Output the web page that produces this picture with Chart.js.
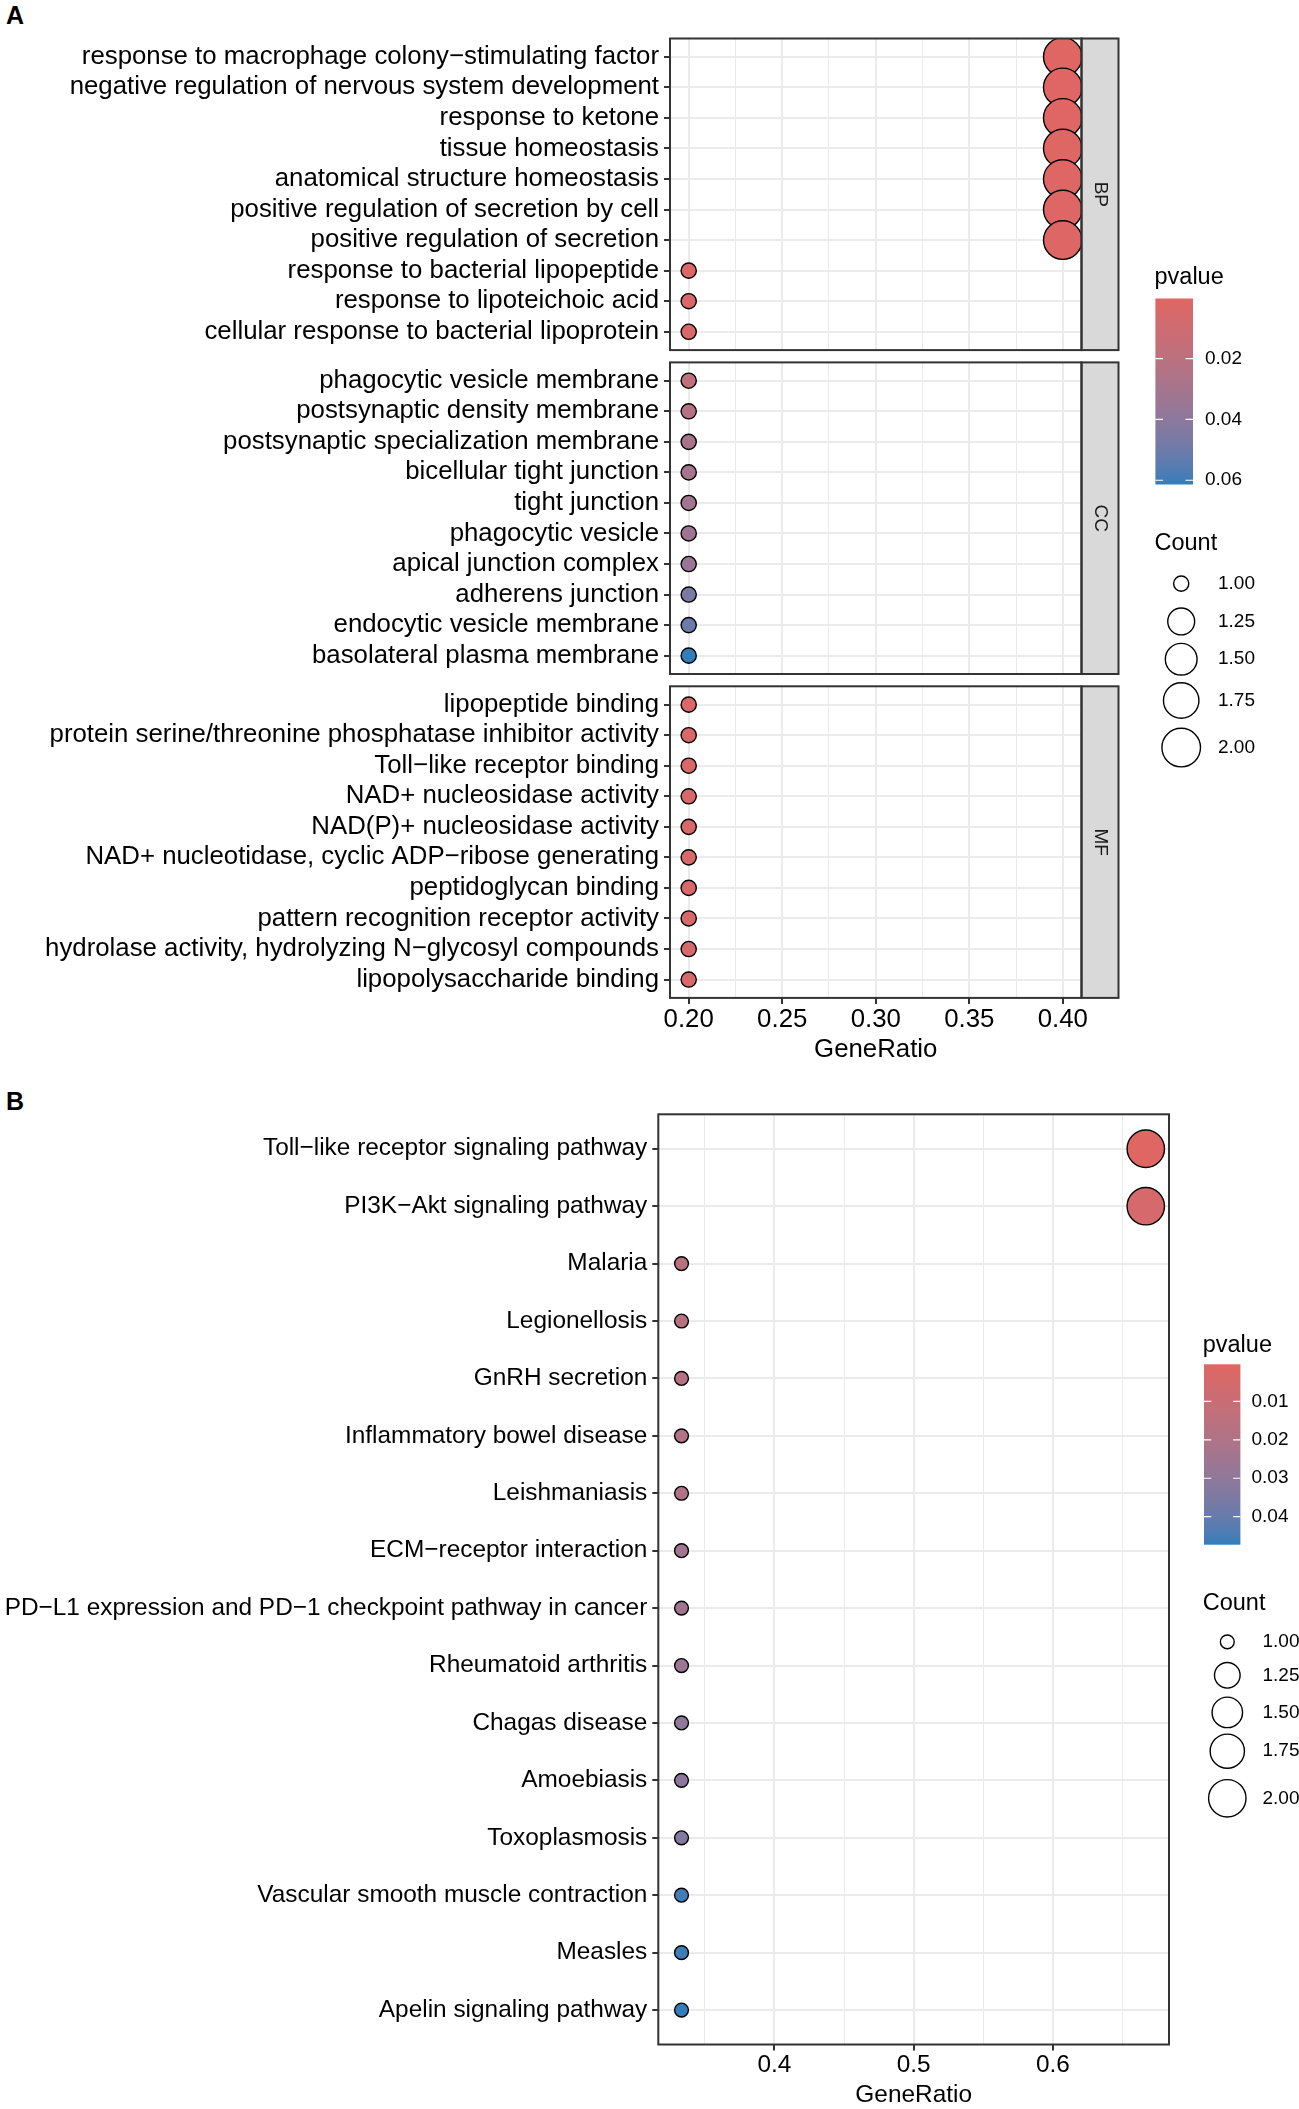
<!DOCTYPE html>
<html>
<head>
<meta charset="utf-8">
<script src="https://cdn.jsdelivr.net/npm/chart.js@4.4.1/dist/chart.umd.min.js"></script>
<style>
  html, body { margin: 0; padding: 0; background: #ffffff; }
  body { width: 1299px; height: 2109px; position: relative; overflow: hidden; }
  canvas.layer { position: absolute; left: 0; top: 0; width: 1299px; height: 2109px; }
  .plabel { position: absolute; left: 6px; font: bold 25px "Liberation Sans", Arial, Helvetica, sans-serif; line-height: 25px; color: #000; }
</style>
</head>
<body>
<div class="plabel" style="top:3px">A</div>
<div class="plabel" style="top:1088.5px">B</div>
<canvas id="cBP" class="layer" width="1299" height="2109"></canvas>
<canvas id="cCC" class="layer" width="1299" height="2109"></canvas>
<canvas id="cMF" class="layer" width="1299" height="2109"></canvas>
<canvas id="cKEGG" class="layer" width="1299" height="2109"></canvas>
<script>
// ---------------- DATA ----------------
const bpTerms = [
  "response to macrophage colony−stimulating factor",
  "negative regulation of nervous system development",
  "response to ketone",
  "tissue homeostasis",
  "anatomical structure homeostasis",
  "positive regulation of secretion by cell",
  "positive regulation of secretion",
  "response to bacterial lipopeptide",
  "response to lipoteichoic acid",
  "cellular response to bacterial lipoprotein"
];
const bpCount = [2, 2, 2, 2, 2, 2, 2, 1, 1, 1];
const bpRatio = [0.4, 0.4, 0.4, 0.4, 0.4, 0.4, 0.4, 0.2, 0.2, 0.2];
const bpP = [0.0002, 0.0006, 0.0009, 0.0011, 0.0013, 0.0016, 0.0018, 0.0031, 0.0034, 0.0036];

const ccTerms = [
  "phagocytic vesicle membrane",
  "postsynaptic density membrane",
  "postsynaptic specialization membrane",
  "bicellular tight junction",
  "tight junction",
  "phagocytic vesicle",
  "apical junction complex",
  "adherens junction",
  "endocytic vesicle membrane",
  "basolateral plasma membrane"
];
const ccCount = [1, 1, 1, 1, 1, 1, 1, 1, 1, 1];
const ccRatio = [0.2, 0.2, 0.2, 0.2, 0.2, 0.2, 0.2, 0.2, 0.2, 0.2];
const ccP = [0.0180, 0.0225, 0.0290, 0.0295, 0.0310, 0.0325, 0.0345, 0.0460, 0.0500, 0.0614];

const mfTerms = [
  "lipopeptide binding",
  "protein serine/threonine phosphatase inhibitor activity",
  "Toll−like receptor binding",
  "NAD+ nucleosidase activity",
  "NAD(P)+ nucleosidase activity",
  "NAD+ nucleotidase, cyclic ADP−ribose generating",
  "peptidoglycan binding",
  "pattern recognition receptor activity",
  "hydrolase activity, hydrolyzing N−glycosyl compounds",
  "lipopolysaccharide binding"
];
const mfCount = [1, 1, 1, 1, 1, 1, 1, 1, 1, 1];
const mfRatio = [0.2, 0.2, 0.2, 0.2, 0.2, 0.2, 0.2, 0.2, 0.2, 0.2];
const mfP = [0.0035, 0.0040, 0.0042, 0.0045, 0.0047, 0.0050, 0.0052, 0.0055, 0.0058, 0.0060];

const keggTerms = [
  "Toll−like receptor signaling pathway",
  "PI3K−Akt signaling pathway",
  "Malaria",
  "Legionellosis",
  "GnRH secretion",
  "Inflammatory bowel disease",
  "Leishmaniasis",
  "ECM−receptor interaction",
  "PD−L1 expression and PD−1 checkpoint pathway in cancer",
  "Rheumatoid arthritis",
  "Chagas disease",
  "Amoebiasis",
  "Toxoplasmosis",
  "Vascular smooth muscle contraction",
  "Measles",
  "Apelin signaling pathway"
];
const keggCount = [2, 2, 1, 1, 1, 1, 1, 1, 1, 1, 1, 1, 1, 1, 1, 1];
const keggRatio = [0.6667, 0.6667, 0.3333, 0.3333, 0.3333, 0.3333, 0.3333, 0.3333, 0.3333, 0.3333, 0.3333, 0.3333, 0.3333, 0.3333, 0.3333, 0.3333];
const keggP = [0.00033, 0.0045, 0.0160, 0.0165, 0.0170, 0.0185, 0.0200, 0.0235, 0.0245, 0.0260, 0.0300, 0.0310, 0.0330, 0.0455, 0.0462, 0.0473];

const facetNames = ["BP", "CC", "MF"];
const xTicksA = [0.20, 0.25, 0.30, 0.35, 0.40];
const xTicksB = [0.4, 0.5, 0.6];
const pBreaksA = [0.02, 0.04, 0.06];
const pBreaksB = [0.01, 0.02, 0.03, 0.04];
const countBreaks = [1.00, 1.25, 1.50, 1.75, 2.00];

// ---------------- HELPERS ----------------
const FONT = '"Liberation Sans", Arial, Helvetica, sans-serif';
const W = 1299, H = 2109;
const LOW = "#e06663", HIGH = "#327eba";

function hex2rgb(h) { return [1, 3, 5].map(i => parseInt(h.slice(i, i + 2), 16)); }
function s2l(c) { c /= 255; return c <= 0.04045 ? c / 12.92 : Math.pow((c + 0.055) / 1.055, 2.4); }
function l2s(c) { c = c <= 0.0031308 ? 12.92 * c : 1.055 * Math.pow(c, 1 / 2.4) - 0.055; return Math.max(0, Math.min(255, Math.round(c * 255))); }
const WN = [0.95047, 1, 1.08883];
function fl(t) { return t > 216 / 24389 ? Math.cbrt(t) : (24389 / 27 * t + 16) / 116; }
function fli(t) { const t3 = t * t * t; return t3 > 216 / 24389 ? t3 : (116 * t - 16) / (24389 / 27); }
function rgb2lab(rgb) {
  const [r, g, b] = rgb.map(s2l);
  const X = (0.4124 * r + 0.3576 * g + 0.1805 * b) / WN[0];
  const Y = (0.2126 * r + 0.7152 * g + 0.0722 * b) / WN[1];
  const Z = (0.0193 * r + 0.1192 * g + 0.9505 * b) / WN[2];
  const fx = fl(X), fy = fl(Y), fz = fl(Z);
  return [116 * fy - 16, 500 * (fx - fy), 200 * (fy - fz)];
}
function lab2rgb(lab) {
  const fy = (lab[0] + 16) / 116, fx = fy + lab[1] / 500, fz = fy - lab[2] / 200;
  const X = fli(fx) * WN[0], Y = fli(fy) * WN[1], Z = fli(fz) * WN[2];
  const r = 3.2406 * X - 1.5372 * Y - 0.4986 * Z;
  const g = -0.9689 * X + 1.8758 * Y + 0.0415 * Z;
  const b = 0.0557 * X - 0.2040 * Y + 1.0570 * Z;
  return [r, g, b].map(l2s);
}
const LAB_LO = rgb2lab(hex2rgb(LOW)), LAB_HI = rgb2lab(hex2rgb(HIGH));
function gradColor(t) {
  t = Math.max(0, Math.min(1, t));
  const c = lab2rgb([0, 1, 2].map(i => LAB_LO[i] + (LAB_HI[i] - LAB_LO[i]) * t));
  return `rgb(${c[0]},${c[1]},${c[2]})`;
}
function colorScale(pmin, pmax) { return p => gradColor((p - pmin) / (pmax - pmin)); }
function sizeScale(cmin, cmax, rmin, rmax) {
  return c => rmin + (rmax - rmin) * Math.sqrt(Math.max(0, (c - cmin) / (cmax - cmin)));
}
function minorTicks(major, lo, hi) {
  const step = major[1] - major[0], out = [];
  for (let k = -1; k < major.length; k++) {
    const v = major[0] + step * (k + 0.5);
    if (v >= lo && v <= hi) out.push(v);
  }
  return out;
}
function expandRange(vals) {
  const mn = Math.min(...vals), mx = Math.max(...vals), d = (mx - mn) * 0.05;
  return [mn - d, mx + d];
}

// ---------------- LEGEND ----------------
function drawLegend(ctx, L) {
  ctx.save();
  ctx.fillStyle = "#000";
  ctx.textAlign = "left";
  ctx.textBaseline = "alphabetic";
  ctx.font = `${L.titleSize}px ${FONT}`;
  ctx.fillText("pvalue", L.titleX, L.pTitleBase);
  const g = ctx.createLinearGradient(0, L.barTop, 0, L.barTop + L.barH);
  for (let i = 0; i <= 24; i++) g.addColorStop(i / 24, gradColor(i / 24));
  ctx.fillStyle = g;
  ctx.fillRect(L.barX, L.barTop, L.barW, L.barH);
  ctx.strokeStyle = "#ffffff";
  ctx.lineWidth = 1.2;
  ctx.font = `${L.labSize}px ${FONT}`;
  ctx.fillStyle = "#000";
  ctx.textBaseline = "middle";
  L.breaks.forEach(b => {
    const y = L.barTop + (b - L.pMin) / (L.pMax - L.pMin) * L.barH;
    ctx.beginPath();
    ctx.moveTo(L.barX, y); ctx.lineTo(L.barX + L.barW / 5, y);
    ctx.moveTo(L.barX + L.barW * 4 / 5, y); ctx.lineTo(L.barX + L.barW, y);
    ctx.stroke();
    ctx.fillText(b.toFixed(2), L.pLabX, y);
  });
  ctx.textBaseline = "alphabetic";
  ctx.font = `${L.titleSize}px ${FONT}`;
  ctx.fillText("Count", L.titleX, L.cTitleBase);
  ctx.font = `${L.labSize}px ${FONT}`;
  ctx.textBaseline = "middle";
  ctx.strokeStyle = "#000";
  ctx.lineWidth = 1.4;
  countBreaks.forEach((c, i) => {
    const y = L.circleY[i];
    ctx.beginPath();
    ctx.arc(L.circleX, y, L.size(c), 0, Math.PI * 2);
    ctx.stroke();
    ctx.fillText(c.toFixed(2), L.cLabX, y);
  });
  ctx.restore();
}

// ---------------- FACET CHART ----------------
function makeFacet(o) {
  const n = o.terms.length;
  const minors = minorTicks(o.xMajor, o.xRange[0], o.xRange[1]);
  const allX = o.xMajor.concat(minors).sort((a, b) => a - b);
  const isMajor = v => o.xMajor.some(m => Math.abs(m - v) < 1e-9);
  const panelPlugin = {
    id: "panel_" + o.id,
    afterDatasetsDraw(chart) {
      const a = chart.chartArea, ctx = chart.ctx;
      ctx.save();
      ctx.strokeStyle = "#333333";
      ctx.lineWidth = 2;
      if (o.strip) {
        ctx.fillStyle = "#D9D9D9";
        ctx.fillRect(a.right, a.top, o.stripW, a.bottom - a.top);
        ctx.strokeRect(a.right, a.top, o.stripW, a.bottom - a.top);
        ctx.save();
        ctx.translate(a.right + o.stripW / 2, (a.top + a.bottom) / 2);
        ctx.rotate(Math.PI / 2);
        ctx.fillStyle = "#1A1A1A";
        ctx.font = `19px ${FONT}`;
        ctx.textAlign = "center";
        ctx.textBaseline = "middle";
        ctx.fillText(o.strip, 0, 0);
        ctx.restore();
      }
      ctx.strokeRect(a.left, a.top, a.right - a.left, a.bottom - a.top);
      ctx.restore();
      if (o.legend) drawLegend(ctx, o.legend);
    }
  };
  return new Chart(document.getElementById(o.id), {
    type: "scatter",
    data: {
      datasets: [{
        data: o.terms.map((t, i) => ({ x: o.ratio[i], y: i })),
        pointRadius: c => o.size(o.count[c.dataIndex]),
        pointHoverRadius: c => o.size(o.count[c.dataIndex]),
        pointBackgroundColor: c => o.color(o.p[c.dataIndex]),
        pointHoverBackgroundColor: c => o.color(o.p[c.dataIndex]),
        pointBorderColor: "#000",
        pointHoverBorderColor: "#000",
        pointBorderWidth: 1.4,
        pointHoverBorderWidth: 1.4,
        showLine: false
      }]
    },
    options: {
      responsive: false,
      animation: false,
      events: [],
      layout: { padding: { left: 0, top: o.top, right: W - o.right, bottom: H - o.bottom - (o.showX ? o.xH : 0) } },
      plugins: { legend: { display: false }, tooltip: { enabled: false } },
      scales: {
        x: {
          type: "linear", position: "bottom", bounds: "data",
          min: o.xRange[0], max: o.xRange[1],
          afterBuildTicks: s => { s.ticks = allX.map(v => ({ value: v, mj: isMajor(v) })); },
          afterFit: s => { s.height = o.showX ? o.xH : 0; },
          ticks: {
            display: o.showX, autoSkip: false, maxRotation: 0, minRotation: 0,
            padding: o.xPad, color: "#000", font: { family: FONT, size: o.fs },
            callback: v => isMajor(v) ? v.toFixed(o.xDigits) : ""
          },
          grid: {
            color: "#EBEBEB",
            lineWidth: c => (c.tick && c.tick.mj) ? 2 : 1,
            drawTicks: o.showX, tickLength: 6, tickWidth: 2,
            tickColor: c => (c.tick && c.tick.mj) ? "#333333" : "rgba(0,0,0,0)"
          },
          border: { display: false },
          title: { display: o.showX, text: "GeneRatio", color: "#000", font: { family: FONT, size: o.fs }, padding: 0 }
        },
        y: {
          type: "linear", reverse: true, bounds: "data",
          min: -0.6, max: n - 0.4,
          afterBuildTicks: s => { s.ticks = o.terms.map((t, i) => ({ value: i })); },
          afterFit: s => { s.width = o.left; },
          ticks: {
            autoSkip: false, padding: 5, color: "#000", font: { family: FONT, size: o.fs },
            callback: v => o.terms[v]
          },
          grid: { color: "#EBEBEB", lineWidth: 2, tickLength: 6, tickWidth: 2, tickColor: "#333333" },
          border: { display: false }
        }
      }
    },
    plugins: [panelPlugin]
  });
}

// ---------------- PANEL A ----------------
const allPA = bpP.concat(ccP, mfP);
const pMinA = Math.min(...allPA), pMaxA = Math.max(...allPA);
const colorA = colorScale(pMinA, pMaxA);
const allCA = bpCount.concat(ccCount, mfCount);
const sizeA = sizeScale(Math.min(...allCA), Math.max(...allCA), 7.6, 19.3);
const xRangeA = expandRange(bpRatio.concat(ccRatio, mfRatio));

const facetsA = [
  { terms: bpTerms, count: bpCount, ratio: bpRatio, p: bpP, id: "cBP" },
  { terms: ccTerms, count: ccCount, ratio: ccRatio, p: ccP, id: "cCC" },
  { terms: mfTerms, count: mfCount, ratio: mfRatio, p: mfP, id: "cMF" }
];
const A_TOP = 38.5, A_H = 311.6, A_GAP = 12.3;
const legendA = {
  titleX: 1154.5, pTitleBase: 283.6, titleSize: 23.5, labSize: 19,
  barX: 1155.4, barW: 37.6, barTop: 298.5, barH: 186,
  pMin: pMinA, pMax: pMaxA, breaks: pBreaksA, pLabX: 1205,
  cTitleBase: 550.3, circleX: 1181.2, circleY: [583.6, 621.4, 659.2, 700.5, 747.6], cLabX: 1218,
  size: sizeA
};
facetsA.forEach((f, k) => {
  const top = A_TOP + k * (A_H + A_GAP);
  makeFacet(Object.assign({}, f, {
    top: top, bottom: top + A_H, left: 670, right: 1081.5,
    showX: k === 2, xH: 67.5, xPad: 0.5, fs: 25.8, xDigits: 2,
    xRange: xRangeA, xMajor: xTicksA,
    color: colorA, size: sizeA,
    strip: facetNames[k], stripW: 37,
    legend: k === 2 ? legendA : null
  }));
});

// ---------------- PANEL B ----------------
const pMinB = Math.min(...keggP), pMaxB = Math.max(...keggP);
const colorB = colorScale(pMinB, pMaxB);
const sizeB = sizeScale(Math.min(...keggCount), Math.max(...keggCount), 6.9, 18.7);
const legendB = {
  titleX: 1202.7, pTitleBase: 1351.5, titleSize: 23.5, labSize: 19,
  barX: 1204, barW: 36.4, barTop: 1364.3, barH: 180.4,
  pMin: pMinB, pMax: pMaxB, breaks: pBreaksB, pLabX: 1251.5,
  cTitleBase: 1610, circleX: 1227.3, circleY: [1641.9, 1675.3, 1712.4, 1751.2, 1798.3], cLabX: 1262.5,
  size: sizeB
};
makeFacet({
  terms: keggTerms, count: keggCount, ratio: keggRatio, p: keggP, id: "cKEGG",
  top: 1114.3, bottom: 2044.5, left: 658.3, right: 1169,
  showX: true, xH: 65.5, xPad: 0, fs: 24.4, xDigits: 1,
  xRange: expandRange(keggRatio), xMajor: xTicksB,
  color: colorB, size: sizeB,
  strip: null, legend: legendB
});
</script>
</body>
</html>
